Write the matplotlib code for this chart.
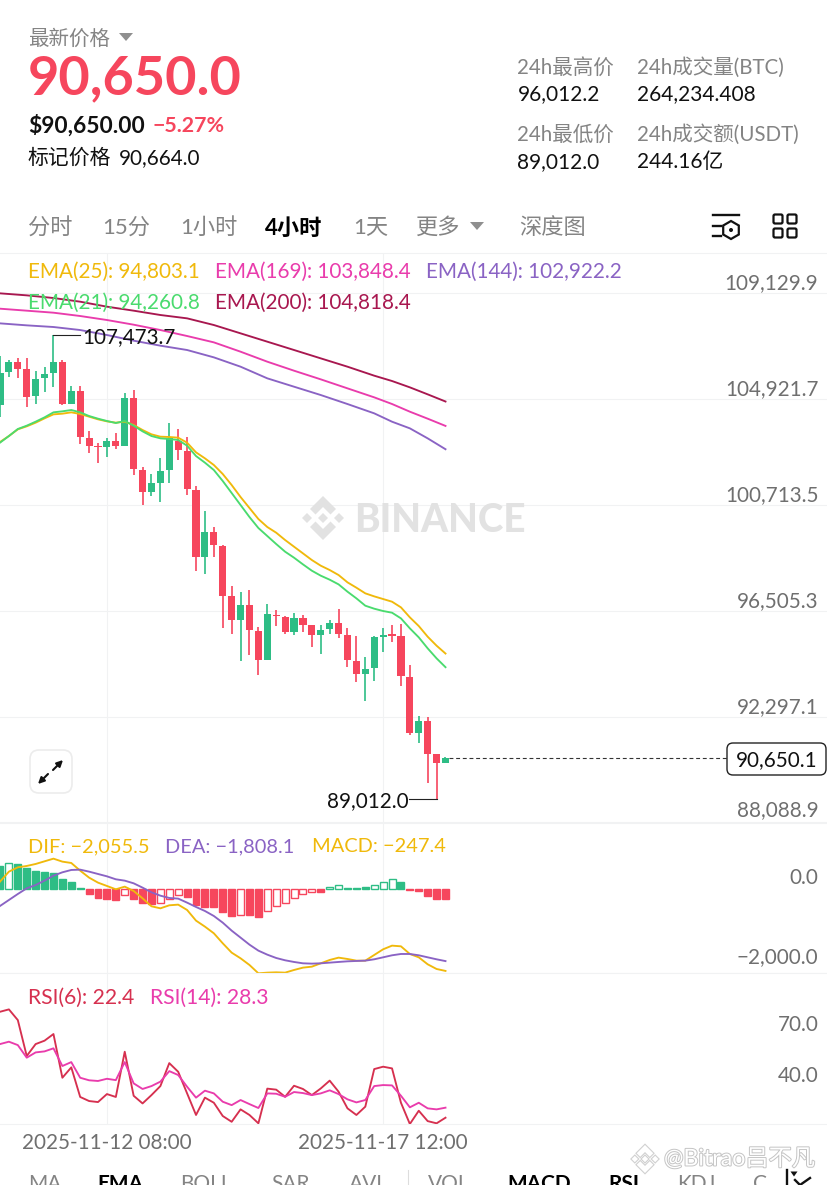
import matplotlib
matplotlib.use("Agg")
import matplotlib.pyplot as plt
from matplotlib.patches import FancyBboxPatch, Polygon, Circle, RegularPolygon
from matplotlib.transforms import ScaledTranslation
import matplotlib.patheffects as pe

plt.rcParams['font.family'] = ['Lato', 'Noto Sans CJK SC', 'DejaVu Sans']

# ---------- data ----------
opens = [104666,105978,106375,106097,105024,105739,105964,106375,104732,105223,103381,103037,102997,103235,103063,
         104944,102096,101235,101593,102083,103235,102865,101301,98639,99632,99076,97075,96135,96718,95711,94545,
         96347,96254,95671,96201,95936,95552,95764,96029,95552,94505,94002,94214,95472,95565,95499,93883,91657,92134,90796,90465]
closes = [105964,106375,106110,105011,105726,105925,106375,104732,105223,103408,103063,102997,103235,103063,104944,
          102123,101235,101566,102056,103355,102891,101328,98639,99632,99102,97102,96135,96718,95737,94545,96360,
          96280,95658,96201,95949,95552,95751,96029,95565,94532,94002,94201,95446,95552,95512,93909,91657,92134,90823,90465,90650.1]
highs = [106627,106468,106534,106534,106044,106203,107473.7,106468,105434,105434,103659,103156,103368,103567,105143,
         105262,102229,101924,102560,103977,103726,103421,101474,100454,99831,99115,97486,97248,97340,95870,96771,
         96519,96280,96400,96347,95949,95923,96148,96559,95830,95512,94678,95499,95804,95949,95976,94346,92333,92293,90823,90678]
lows = [104189,105792,105766,104600,104732,105196,105381,104666,104719,103116,102759,102374,102613,102931,103063,
        101884,100692,101076,100838,101593,102494,101116,98082,97950,98639,95830,95592,94505,94731,93949,94545,
        95896,95592,95525,95671,95062,94797,95592,95433,94280,93671,92916,93711,94850,95274,93512,91551,91247,89644,89012.0,90438]

ema25 = [103209,103447,103712,103832,103977,104149,104308,104335,104388,104322,104216,104110,104030,103977,104017,103885,
         103686,103514,103421,103408,103381,103182,102798,102560,102295,101937,101500,101023,100586,100149,99831,99605,
         99314,99049,98784,98519,98294,98122,97923,97632,97420,97195,97075,96969,96863,96638,96241,95896,95472,95115,94803.1]
ema21 = [103183,103447,103726,103858,104017,104189,104388,104428,104481,104388,104242,104136,104044,103964,104044,103858,
         103633,103447,103355,103328,103288,103063,102652,102388,102096,101659,101182,100705,100228,99791,99473,99155,
         98850,98612,98347,98095,97897,97738,97552,97261,96996,96704,96585,96493,96426,96201,95804,95446,95009,94611,94260.8]
slow_idx = [0,3,6,9,12,15,18,21,24,27,30,33,36,39,42,44,46,48,50]
ema200 = [109117,109037,108931,108785,108587,108428,108256,108123,107858,107527,107196,106865,106533,106202,105845,105633,105381,105103,104818.4]
ema169 = [108507,108428,108348,108216,108057,107871,107659,107421,107169,106798,106401,106043,105699,105341,104984,104719,104414,104136,103848.4]
ema144 = [107924,107845,107779,107659,107461,107236,107037,106865,106573,106202,105739,105407,105076,104718,104348,104016,103752,103354,102922.2]

dif = [193,445,554,588,638,705,772,697,663,470,294,168,84,0,67,-42,-227,-428,-479,-403,-386,-521,-789,-940,-1108,-1360,
       -1595,-1738,-1906,-2116,-2099,-2091,-2099,-2032,-1973,-1948,-1864,-1780,-1721,-1755,-1797,-1797,-1654,-1511,-1419,
       -1436,-1629,-1713,-1889,-2007,-2055.5]
dea = [-420,-269,-118,25,109,218,344,428,487,495,445,386,327,252,218,151,42,-76,-160,-218,-235,-336,-445,-546,-672,-840,
       -1041,-1217,-1394,-1545,-1646,-1730,-1788,-1830,-1864,-1872,-1864,-1847,-1830,-1814,-1805,-1797,-1763,-1713,-1662,
       -1629,-1629,-1662,-1713,-1763,-1808.1]
macd = [588,655,630,529,470,445,403,260,185,34,-118,-210,-252,-269,-134,-243,-353,-369,-353,-235,-151,-202,-395,-437,-453,
        -571,-663,-646,-646,-688,-546,-420,-336,-227,-126,-76,-59,67,101,42,25,59,118,193,252,176,-25,-34,-168,-235,-247.4]
macd_hollow = [1,14,18,19,20,27,30,31,32,33,34,35,37,38,42,43,44]

rsi6 = [84.7,86.1,79.8,58.7,65.7,67.7,71.6,45.9,52.0,34.6,32.2,31.6,36.3,34.6,61.2,35.3,30.8,35.7,41.0,54.5,49.4,36.7,24.0,
        34.2,31.2,23.4,20.0,27.3,24.0,19.1,39.5,38.9,34.7,41.2,39.3,35.7,39.6,44.2,37.7,27.9,24.0,28.9,51.0,52.4,51.4,31.2,
        18.7,26.5,20.4,19.1,22.4]
rsi14 = [65.7,67.1,65.1,57.7,60.8,61.4,63.2,52.8,55.1,45.9,44.4,44.0,45.3,44.5,55.1,42.6,39.3,41.0,43.6,49.8,47.5,40.6,34.2,
         38.3,36.7,31.8,29.8,32.8,30.4,28.1,36.7,36.5,34.7,37.5,36.9,35.7,36.7,38.5,36.3,33.2,31.4,32.8,41.0,41.6,41.4,35.3,
         28.5,31.2,27.9,27.3,28.3]

price_ticks = [109129.9, 104921.7, 100713.5, 96505.3, 92297.1, 88088.9]
macd_ticks = [0.0, -2000.0]
macd_labels = ['0.0', '\u22122,000.0']
rsi_ticks = [70.0, 40.0]
time_idx = [12, 43]
time_labels = ['2025-11-12 08:00', '2025-11-17 12:00']
last_price = 90650.1

# ---------- style ----------
W, H = 828, 1185
RED, GREEN = '#F6465D', '#2EBD85'
ORANGE, PINK, PURPLE, LIME, CRIMSON = '#F0B90B', '#E93CAC', '#8A63C4', '#4ADB6E', '#A8174F'
RSI6C, RSI14C = '#D6304F', '#E93CAC'
GRAY, GRID, INK = '#848484', '#F1F2F3', '#111111'
LW = 1.35
AX_FS = 14.85

fig = plt.figure(figsize=(W / 100, H / 100), dpi=100, facecolor='white')

def panel(top, bottom):
    a = fig.add_axes([0, 1 - bottom / H, 1, (bottom - top) / H])
    a.set_xlim(0, 92.93)
    for s in ('left', 'right'):
        a.spines[s].set_visible(False)
    for s in ('top', 'bottom'):
        a.spines[s].set_color(GRID)
        a.spines[s].set_linewidth(0.8)
    a.set_axisbelow(True)
    a.set_xticks(time_idx)
    a.grid(axis='x', color=GRID, lw=0.8)
    a.tick_params(axis='x', length=0, labelbottom=False)
    a.tick_params(axis='y', length=0, labelleft=False, labelright=True, pad=-7.0,
                  labelsize=AX_FS, labelcolor='#6f6f6f')
    return a

def finish_y(a, lift_px=3.5, last_extra=0.0):
    ticks = a.yaxis.get_major_ticks()
    for k, t in enumerate(ticks):
        px = lift_px + (last_extra if k == len(ticks) - 1 else 0)
        off = ScaledTranslation(0, px / 100, fig.dpi_scale_trans)
        t.label2.set_ha('right')
        t.label2.set_va('baseline')
        t.label2.set_transform(t.label2.get_transform() + off)

# ---- price panel ----
ax = panel(253, 823)
ax.set_ylim(88069, 110720)
ax.set_yticks(price_ticks, [f'{v:,.1f}' for v in price_ticks])
ax.grid(axis='y', color=GRID, lw=0.8)
finish_y(ax, 3.5, 3.0)

idx = list(range(len(opens)))
col = [GREEN if c >= o else RED for o, c in zip(opens, closes)]
ax.vlines(idx, lows, highs, colors=col, lw=1.2, zorder=2)
ax.bar(idx, [max(abs(c - o), 30) for o, c in zip(opens, closes)], bottom=[min(o, c) for o, c in zip(opens, closes)],
       width=0.8, color=col, lw=0, zorder=3)
ax.plot(idx, ema25, color=ORANGE, lw=LW, zorder=4)
ax.plot(idx, ema21, color=LIME, lw=LW, zorder=4)
ax.plot(slow_idx, ema200, color=CRIMSON, lw=LW, zorder=4)
ax.plot(slow_idx, ema169, color=PINK, lw=LW, zorder=4)
ax.plot(slow_idx, ema144, color=PURPLE, lw=LW, zorder=4)

hi_i = highs.index(max(highs))
lo_i = lows.index(min(lows))
ax.plot([hi_i, hi_i + 3.0], [highs[hi_i]] * 2, color='#222222', lw=0.8, zorder=5)
ax.annotate(f'{highs[hi_i]:,.1f}', (hi_i + 3.0, highs[hi_i]), xytext=(1.5, -1.5), textcoords='offset points',
            ha='left', va='center', fontsize=AX_FS, color=INK, zorder=6)
ax.plot([lo_i - 3.05, lo_i], [lows[lo_i]] * 2, color='#222222', lw=0.8, zorder=5)
ax.annotate(f'{lows[lo_i]:,.1f}', (lo_i - 3.05, lows[lo_i]), xytext=(-0.5, -1.0), textcoords='offset points',
            ha='right', va='center', fontsize=AX_FS, color=INK, zorder=6)
ax.plot([idx[-1] + 0.4, 81.6], [last_price, last_price], color='#333333', lw=0.8, ls=(0, (3.5, 2.5)), zorder=2)

# ---- MACD panel ----
ax2 = panel(823, 973)
ax2.set_ylim(-2108, 1670)
ax2.set_yticks(macd_ticks, macd_labels)
finish_y(ax2, 5.5)
mcol = [GREEN if v >= 0 else RED for v in macd]
face = ['white' if i in macd_hollow else c for i, c in enumerate(mcol)]
ax2.bar(idx, macd, width=0.78, color=face, edgecolor=mcol, lw=1.0, zorder=2)
ax2.plot(idx, dif, color=ORANGE, lw=LW, zorder=3)
ax2.plot(idx, dea, color=PURPLE, lw=LW, zorder=3)

# ---- RSI panel ----
ax3 = panel(973, 1124)
ax3.set_ylim(18.7, 107.5)
ax3.set_yticks(rsi_ticks, [f'{v:.1f}' for v in rsi_ticks])
finish_y(ax3, 5.5)
ax3.plot(idx, rsi6, color=RSI6C, lw=LW, zorder=3)
ax3.plot(idx, rsi14, color=RSI14C, lw=LW, zorder=3)
ax3.set_xticks(time_idx, time_labels)
ax3.tick_params(axis='x', labelbottom=True, labelsize=AX_FS, labelcolor='#6f6f6f', pad=6.5)

# ---- page chrome (pixel overlay) ----
ov = fig.add_axes([0, 0, 1, 1], zorder=10)
ov.set_xlim(0, W)
ov.set_ylim(H, 0)
ov.axis('off')

def T(x, y, s, color=INK, fs=14.85, ha='left', weight='normal', **kw):
    return ov.text(x, y, s, color=color, fontsize=fs, ha=ha, va='center', fontweight=weight, **kw)

def tri(cx, cy, w, h, color='#8f8f8f'):
    ov.add_patch(Polygon([(cx - w / 2, cy - h / 2), (cx + w / 2, cy - h / 2), (cx, cy + h / 2)], closed=True, fc=color, ec='none'))

T(28, 39, '最新价格', GRAY, 14.8)
tri(126, 37, 14, 8)
T(27.5, 79, '90,650.0', RED, 39, weight='bold')
T(28, 126, '$90,650.00', INK, 16.4, weight='bold')
T(152.5, 126, '\u22125.27%', RED, 15.4, weight='bold')
T(28, 158, '标记价格', INK, 15)
T(118.5, 158, '90,664.0', INK, 14.85)

for x, lab, val in [(517.5, '24h最高价', '96,012.2'), (637.5, '24h成交量(BTC)', '264,234.408')]:
    T(x, 68, lab, GRAY, 14.8)
    T(x, 94, val, INK, 15)
for x, lab, val in [(517.5, '24h最低价', '89,012.0'), (637.5, '24h成交额(USDT)', '244.16亿')]:
    T(x, 135, lab, GRAY, 14.8)
    T(x, 162, val, INK, 15)

for x, s in [(28, '分时'), (102, '15分'), (180, '1小时'), (353, '1天'), (416, '更多'), (519, '深度图')]:
    T(x, 228, s, GRAY, 16)
T(265, 228, '4小时', '#000000', 16, weight='bold')
tri(477, 226, 14, 8)

# toolbar icons
ov.plot([713, 739], [215, 215], color=INK, lw=1.7)
ov.plot([713, 721], [226, 226], color=INK, lw=1.7)
ov.plot([713, 721], [236, 236], color=INK, lw=1.7)
ov.add_patch(RegularPolygon((731, 230), 6, radius=9, fc='white', ec=INK, lw=1.6))
ov.add_patch(Circle((731, 230), 2, fc=INK, ec='none'))
for cx in (778, 792):
    for cy in (219, 233):
        ov.add_patch(FancyBboxPatch((cx - 4.5, cy - 4.5), 9, 9, boxstyle='round,pad=0,rounding_size=1.5', fc='white', ec=INK, lw=1.6))

# legends
T(28.5, 272, 'EMA(25): 94,803.1', ORANGE)
T(215.5, 272, 'EMA(169): 103,848.4', PINK)
T(426.5, 272, 'EMA(144): 102,922.2', PURPLE)
T(28.5, 303, 'EMA(21): 94,260.8', LIME)
T(215.5, 303, 'EMA(200): 104,818.4', CRIMSON)
T(28.5, 847, 'DIF: \u22122,055.5', ORANGE, 14.45)
T(165.5, 847, 'DEA: \u22121,808.1', PURPLE, 14.45)
T(312.5, 847, 'MACD: \u2212247.4', ORANGE, 14.45)
T(28.5, 998, 'RSI(6): 22.4', RSI6C, 15.2)
T(150.5, 998, 'RSI(14): 28.3', RSI14C, 15.2)

# last price box
ov.add_patch(FancyBboxPatch((727, 743), 99, 32, boxstyle='round,pad=0,rounding_size=6', fc='white', ec='#222222', lw=1.0))
T(776.5, 760, '90,650.1', INK, AX_FS, ha='center')

# expand button
ov.add_patch(FancyBboxPatch((30, 750), 42, 43, boxstyle='round,pad=0,rounding_size=9', fc='white', ec='#ececec', lw=1.2))
for tail, tip in [((53, 770), (63, 760)), ((48, 774), (38, 784))]:
    ov.annotate('', xy=tip, xytext=tail, arrowprops=dict(arrowstyle='-|>', color=INK, lw=1.5, shrinkA=0, shrinkB=0, mutation_scale=9))

def logo(cx, cy, r, color, **kw):
    u = r / 4.4
    def d(x, y, s):
        ov.add_patch(Polygon([(x - s, y), (x, y - s), (x + s, y), (x, y + s)], closed=True, fc=color, ec='none', **kw))
    d(cx, cy, u)
    d(cx - 3.2 * u, cy, u)
    d(cx + 3.2 * u, cy, u)
    for sgn in (-1, 1):
        ov.add_patch(Polygon([(cx, cy + sgn * 4.4 * u), (cx + 2.6 * u, cy + sgn * 1.8 * u), (cx + 1.5 * u, cy + sgn * 0.7 * u),
                              (cx, cy + sgn * 2.2 * u), (cx - 1.5 * u, cy + sgn * 0.7 * u), (cx - 2.6 * u, cy + sgn * 1.8 * u)],
                             closed=True, fc=color, ec='none', **kw))

logo(323, 518, 22, '#E2E2E2')
T(354, 520, 'BINANCE', '#E2E2E2', 27.8, weight='black')

# bottom tabs (cut off by the page edge)
for x, s, b in [(28, 'MA', 0), (97, 'EMA', 1), (180, 'BOLL', 0), (271, 'SAR', 0), (349, 'AVL', 0), (428, 'VOL', 0),
                (507, 'MACD', 1), (608, 'RSI', 1), (677, 'KDJ', 0), (753, 'C', 0)]:
    T(x, 1184, s, '#000000' if b else GRAY, 15, weight='bold' if b else 'normal')
ov.plot([408, 408], [1170, 1185], color='#DDDDDD', lw=0.8)
ov.plot([787, 787], [1170, 1185], color=INK, lw=1.7)
tri(794, 1174, 7, 5, INK)
ov.plot([795, 800, 810], [1180, 1185, 1178], color=INK, lw=1.7)

# image watermark
logo(645, 1159, 14, '#FFFFFF', path_effects=[pe.withStroke(linewidth=1.6, foreground='#D0D0D0')])
T(664, 1159, '@Bitrao吕不凡', '#FFFFFF', 16.7,
  path_effects=[pe.withStroke(linewidth=1.4, foreground='#C4C4C4')])

fig.savefig('out.png', dpi=100)
